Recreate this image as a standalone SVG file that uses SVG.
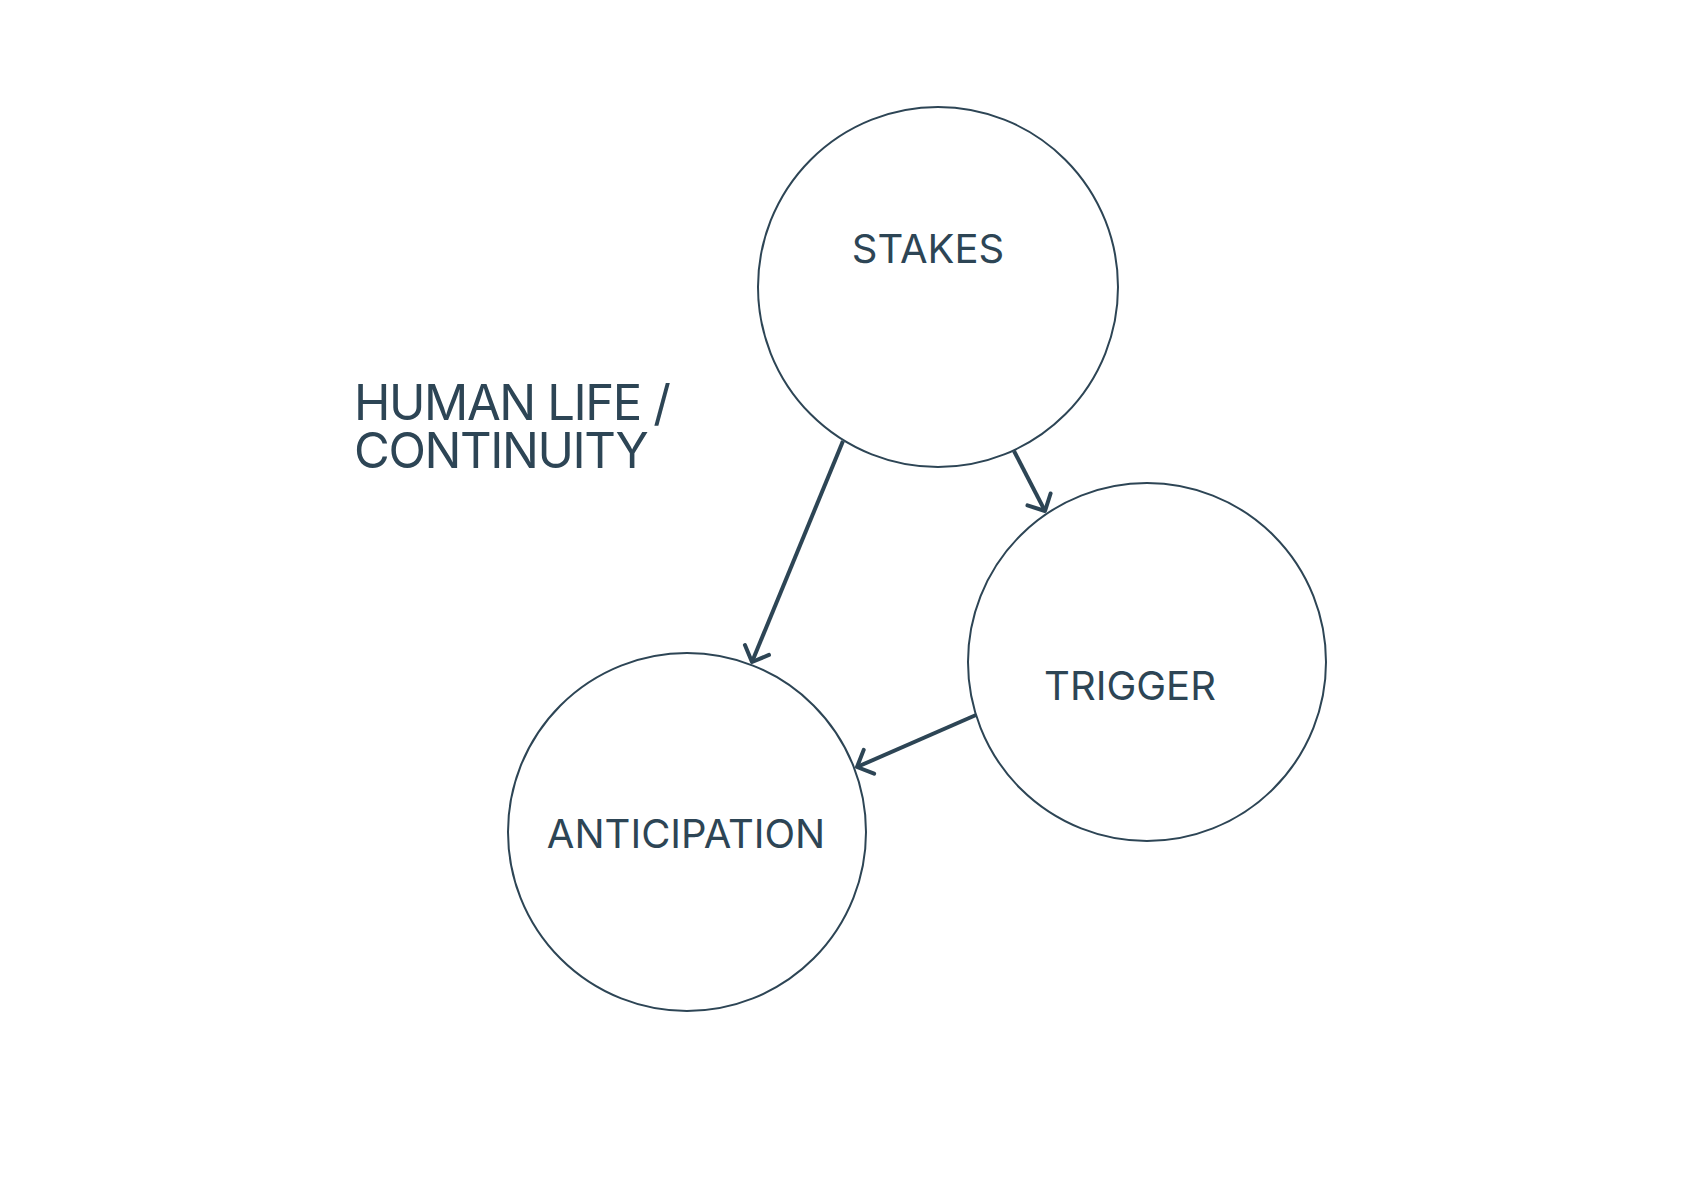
<svg xmlns="http://www.w3.org/2000/svg" width="1684" height="1190" viewBox="0 0 1684 1190">
<style>
.node{fill:#ffffff;stroke:#2d4555;stroke-width:2}
.lbl{font-family:Inter,"Liberation Sans",sans-serif;font-size:40px;fill:#2d4555}
.title{font-family:Inter,"Liberation Sans",sans-serif;font-size:49px;letter-spacing:-1.4px;fill:#2d4555}
.edge{fill:none;stroke:#2d4555;stroke-width:4}
</style>
<defs>
<marker id="arr" markerUnits="userSpaceOnUse" viewBox="-20 -20 40 40" markerWidth="40" markerHeight="40" refX="0" refY="0" orient="auto" overflow="visible">
<path d="M -13 -13 L 0 0 L -13 13" fill="none" stroke="#2d4555" stroke-width="4" stroke-linecap="round" stroke-linejoin="round"/>
</marker>
</defs>
<rect width="1684" height="1190" fill="#ffffff"/>
<g id="label-human-life">
<text class="title" x="354" y="420">HUMAN LIFE /</text>
<text class="title" x="354" y="468">CONTINUITY</text>
</g>
<g id="node-stakes">
<circle class="node" cx="938" cy="287" r="180"/>
<text class="lbl" x="928" y="263" text-anchor="middle">STAKES</text>
</g>
<g id="node-trigger">
<circle class="node" cx="1147" cy="662" r="179"/>
<text class="lbl" x="1130" y="700" text-anchor="middle">TRIGGER</text>
</g>
<g id="node-anticipation">
<circle class="node" cx="687" cy="832" r="179"/>
<text class="lbl" x="686" y="848" text-anchor="middle">ANTICIPATION</text>
</g>
<g id="connectors">
<line class="edge" x1="843" y1="441" x2="752" y2="662" marker-end="url(#arr)"/>
<line class="edge" x1="1014" y1="451" x2="1045" y2="511" marker-end="url(#arr)"/>
<line class="edge" x1="976" y1="715" x2="857" y2="767" marker-end="url(#arr)"/>
</g>
</svg>
